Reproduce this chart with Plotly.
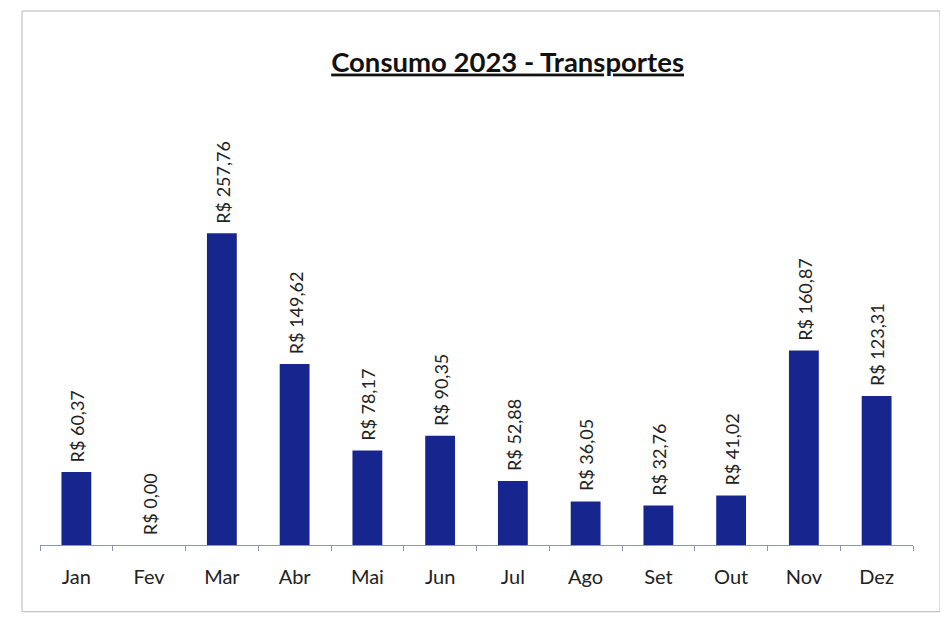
import plotly.graph_objects as go

months = ["Jan", "Fev", "Mar", "Abr", "Mai", "Jun", "Jul", "Ago", "Set", "Out", "Nov", "Dez"]
values = [60.37, 0.00, 257.76, 149.62, 78.17, 90.35, 52.88, 36.05, 32.76, 41.02, 160.87, 123.31]
title_text = "Consumo 2023 - Transportes"

def brl(v):
    return "R$ " + f"{v:.2f}".replace(".", ",")

labels = [brl(v) for v in values]
FONT = "Lato, Open Sans, sans-serif"

fig = go.Figure()
fig.add_trace(go.Bar(
    x=months, y=values,
    marker=dict(color="#17268f", line=dict(width=0)),
    hoverinfo="skip",
))

for m, v, t in zip(months, values, labels):
    fig.add_annotation(
        x=m, y=v, xref="x", yref="y", text=t, showarrow=False,
        textangle=-90, xanchor="center", yanchor="bottom", yshift=8, xshift=1,
        font=dict(family=FONT, size=18, color="#222222"),
    )

fig.update_layout(
    width=948, height=635,
    paper_bgcolor="white", plot_bgcolor="white",
    margin=dict(l=32, r=43, t=92, b=98),
    bargap=0.59,
    showlegend=False,
    title=dict(
        text="<b><u>" + title_text + "</u></b>",
        x=0.527, xanchor="center", y=0.915, yanchor="middle",
        font=dict(family=FONT, size=27.5, color="#111111"),
    ),
)
fig.update_xaxes(
    showline=True, linecolor="#8c96b0", linewidth=1,
    ticks="outside", tickson="boundaries", ticklen=5, tickcolor="#8c96b0",
    ticklabelstandoff=14,
    tickfont=dict(family=FONT, size=20, color="#222222"),
    showgrid=False,
)
fig.update_yaxes(
    range=[0, 368], visible=False, showgrid=False, zeroline=False,
)
fig.add_shape(type="rect", xref="paper", yref="paper",
              x0=-0.0206, x1=1.031, y0=-0.15, y1=1.2,
              line=dict(color="#b5b5b5", width=1), layer="below")

fig.write_html("out.html")
